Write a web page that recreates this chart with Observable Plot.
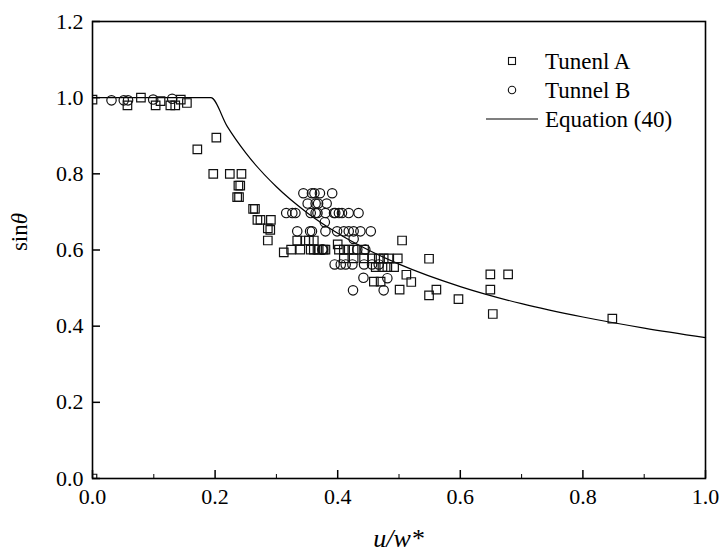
<!DOCTYPE html>
<html>
<head>
<meta charset="utf-8">
<script src="https://cdn.jsdelivr.net/npm/d3@7"></script>
<script src="https://cdn.jsdelivr.net/npm/@observablehq/plot@0.6"></script>
<style>
  html, body { margin: 0; padding: 0; background: #fff; }
  #chart { position: relative; width: 721px; height: 553px; }
  #chart svg, #chart svg text, #chart svg tspan { font-family: "Liberation Serif", "Times New Roman", serif !important; }
  #chart svg g[aria-label="x-axis tick label"], #chart svg g[aria-label="y-axis tick label"] { font-size: 22px !important; }
</style>
</head>
<body>
<div id="chart"></div>
<script>
// ---- data ----
const tunnelAX = [0, 0, 0.057, 0.079, 0.103, 0.111, 0.127, 0.135, 0.144, 0.154,
  0.171, 0.202, 0.197, 0.224, 0.243, 0.238, 0.241, 0.239, 0.236, 0.262, 0.265,
  0.269, 0.274, 0.291, 0.290, 0.286, 0.286, 0.312, 0.324, 0.339, 0.356, 0.361, 0.367, 0.369, 0.377, 0.380,
  0.334, 0.347, 0.353, 0.361, 0.400,
  0.402, 0.410, 0.418, 0.426, 0.443,
  0.410, 0.426, 0.443, 0.456, 0.467, 0.475, 0.483, 0.498,
  0.462, 0.473, 0.481, 0.492,
  0.459, 0.470, 0.512, 0.520, 0.501, 0.549, 0.561, 0.597, 0.549, 0.505,
  0.649, 0.678, 0.649, 0.653, 0.848];
const tunnelAY = [0.995, 0, 0.980, 1.000, 0.980, 0.991, 0.980, 0.980, 0.995, 0.986,
  0.864, 0.895, 0.800, 0.800, 0.800, 0.769, 0.769, 0.739, 0.739, 0.708, 0.708,
  0.679, 0.679, 0.679, 0.653, 0.657, 0.625, 0.594, 0.601, 0.601, 0.601, 0.601, 0.601, 0.601, 0.601, 0.601,
  0.625, 0.625, 0.625, 0.625, 0.615,
  0.601, 0.601, 0.601, 0.601, 0.601,
  0.578, 0.578, 0.578, 0.578, 0.578, 0.578, 0.578, 0.578,
  0.555, 0.555, 0.555, 0.555,
  0.517, 0.517, 0.535, 0.516, 0.496, 0.481, 0.496, 0.471, 0.577, 0.625,
  0.536, 0.536, 0.496, 0.432, 0.420];

const tunnelBX = [0.031, 0.051, 0.058, 0.099, 0.130,
  0.344, 0.358, 0.362, 0.371, 0.391,
  0.351, 0.364, 0.368, 0.382,
  0.316, 0.326, 0.331, 0.356, 0.364, 0.367, 0.380, 0.394, 0.396, 0.402, 0.407, 0.418, 0.434,
  0.379,
  0.334, 0.355, 0.358, 0.380, 0.399, 0.410, 0.418, 0.426, 0.437, 0.454,
  0.426,
  0.375, 0.376, 0.432, 0.445,
  0.395, 0.405, 0.413, 0.424, 0.443, 0.456, 0.467,
  0.442, 0.481, 0.425, 0.475];
const tunnelBY = [0.993, 0.993, 0.993, 0.995, 0.997,
  0.749, 0.749, 0.749, 0.749, 0.749,
  0.722, 0.722, 0.722, 0.722,
  0.697, 0.697, 0.697, 0.697, 0.697, 0.697, 0.697, 0.697, 0.697, 0.697, 0.697, 0.697, 0.697,
  0.673,
  0.649, 0.649, 0.649, 0.649, 0.649, 0.649, 0.649, 0.649, 0.649, 0.649,
  0.629,
  0.601, 0.601, 0.601, 0.601,
  0.562, 0.562, 0.562, 0.562, 0.562, 0.562, 0.562,
  0.527, 0.526, 0.494, 0.494];

// Equation (40) curve
const eqX = [0, 0.193, 0.22, 0.25, 0.30, 0.35, 0.40, 0.45, 0.50, 0.60, 0.70, 0.80, 0.90, 1.00];
const eqY = [1.0, 1.0, 0.924, 0.855, 0.766, 0.698, 0.644, 0.600, 0.563, 0.504, 0.459, 0.424, 0.395, 0.370];

const xTicks = [0, 0.2, 0.4, 0.6, 0.8, 1.0];
const xMinorTicks = [0.1, 0.3, 0.5, 0.7, 0.9];
const yTicks = [0, 0.2, 0.4, 0.6, 0.8, 1.0, 1.2];
const legendLabels = ["Tunenl A", "Tunnel B", "Equation (40)"];
const xTitle = "u/w*";
const yTitleMain = "sin";
const yTitleSymbol = "θ";

// ---- build ----
const A = tunnelAX.map((x, i) => ({x, y: tunnelAY[i]}));
const B = tunnelBX.map((x, i) => ({x, y: tunnelBY[i]}));
const EQ = eqX.map((x, i) => ({x, y: eqY[i]}));

const W = 721, H = 553, mL = 92, mR = 16, mT = 21, mB = 75;
const plotH = H - mT - mB, plotW = W - mL - mR;
const fmt = d3.format(".1f");

const chart = Plot.plot({
  width: W, height: H,
  marginLeft: mL, marginRight: mR, marginTop: mT, marginBottom: mB,
  style: {fontFamily: "'Liberation Serif', serif", fontSize: "22px", color: "#000", background: "#fff"},
  x: {domain: [0, 1]},
  y: {domain: [0, 1.2]},
  marks: [
    Plot.line(EQ, {x: "x", y: "y", curve: "monotone-x", stroke: "#000", strokeWidth: 1.2}),
    Plot.dot(A, {x: "x", y: "y", symbol: "square", r: 4.8, stroke: "#111", strokeWidth: 1.2, fill: "none", clip: true}),
    Plot.dot(B, {x: "x", y: "y", symbol: "circle", r: 4.7, stroke: "#111", strokeWidth: 1.2, fill: "none", clip: true}),
    Plot.ruleX(xTicks, {x: d => d, insetTop: plotH - 8, stroke: "#000", strokeWidth: 1.5}),
    Plot.ruleX(xMinorTicks, {x: d => d, insetTop: plotH - 4, stroke: "#000", strokeWidth: 1}),
    Plot.ruleY(yTicks, {y: d => d, insetRight: plotW - 8, stroke: "#000", strokeWidth: 1.5}),
    Plot.axisX({ticks: xTicks, tickSize: 0, tickPadding: 10, tickFormat: fmt, label: null, fontSize: 22}),
    Plot.axisY({ticks: yTicks, tickSize: 0, tickPadding: 9, tickFormat: fmt, label: null, fontSize: 22}),
    Plot.frame({stroke: "#000", strokeWidth: 1.6})
  ]
});

document.getElementById("chart").appendChild(chart);

const svg = d3.select(chart);
// axis titles
svg.append("text")
  .attr("x", mL + plotW / 2).attr("y", 547)
  .attr("text-anchor", "middle")
  .attr("font-size", 26).attr("font-style", "italic").attr("fill", "#000")
  .text(xTitle);
const yt = svg.append("text")
  .attr("transform", `translate(27, ${232}) rotate(-90)`)
  .attr("text-anchor", "middle")
  .attr("font-size", 23).attr("fill", "#000");
yt.append("tspan").text(yTitleMain);
yt.append("tspan").attr("font-style", "italic").text(yTitleSymbol);

// legend
const lg = svg.append("g").attr("font-size", 23).attr("fill", "#000").attr("text-anchor", "start");
const rows = [61, 90, 119];
lg.append("rect").attr("x", 512 - 3.5).attr("y", rows[0] - 3.5).attr("width", 7).attr("height", 7)
  .attr("fill", "none").attr("stroke", "#111").attr("stroke-width", 1.1);
lg.append("circle").attr("cx", 512).attr("cy", rows[1]).attr("r", 3.7)
  .attr("fill", "none").attr("stroke", "#111").attr("stroke-width", 1.1);
lg.append("line").attr("x1", 486).attr("x2", 538).attr("y1", rows[2]).attr("y2", rows[2])
  .attr("stroke", "#000").attr("stroke-width", 1.2);
legendLabels.forEach((t, i) => {
  lg.append("text").attr("x", 545).attr("y", rows[i]).attr("dy", "0.35em")
    .attr("text-anchor", "start").text(t);
});
</script>
</body>
</html>
